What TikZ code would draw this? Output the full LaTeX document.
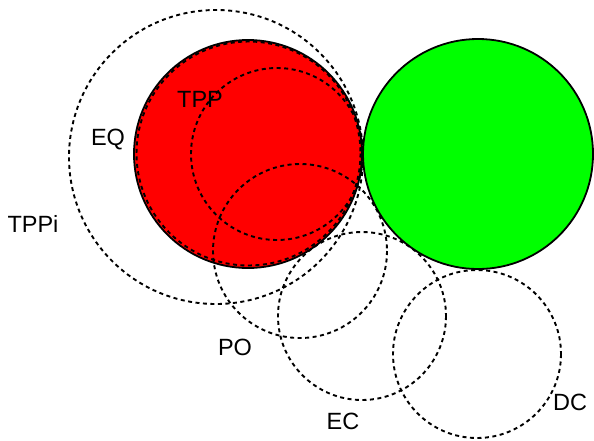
\documentclass[tikz,border=0pt]{standalone}
\usepackage{fontspec}
\setmainfont{Liberation Sans}
\usepackage{tikz}
\tikzset{
    region/.style={draw=black, line width=1.8pt},
    relation/.style={draw=black, line width=1.9pt, dash pattern=on 4pt off 3.5pt},
    rcclabel/.style={inner sep=0pt, font=\fontsize{23.5}{28}\selectfont},
}
\begin{document}
\begin{tikzpicture}[x=1pt, y=-1pt]
    \useasboundingbox (0,0) rectangle (594,440);
    \fill[red] (248,154) circle (114);
    \fill[green] (478,154) circle (115);
    \draw[region] (248,154) circle (114);
    \draw[region] (478,154) circle (115);
    % relations of the dashed region to the red one
    \draw[relation] (216,157) circle (147);
    \draw[relation] (248.5,153.5) circle (112);
    \draw[relation] (277,154) circle (86);
    \draw[relation] (300,251) circle (87);
    \draw[relation] (362,316) circle (84);
    \draw[relation] (477,354) circle (84);
     \node[rcclabel] (tppi) at (33,223.5) {TPPi};
     \node[rcclabel] (eq) at (108,139.5) {EQ};
     \node[rcclabel] (tpp) at (200,99) {TPP};
     \node[rcclabel] (po) at (235,347) {PO};
     \node[rcclabel] (ec) at (343,421) {EC};
     \node[rcclabel] (dc) at (570,402) {DC};
\end{tikzpicture}
\end{document}
